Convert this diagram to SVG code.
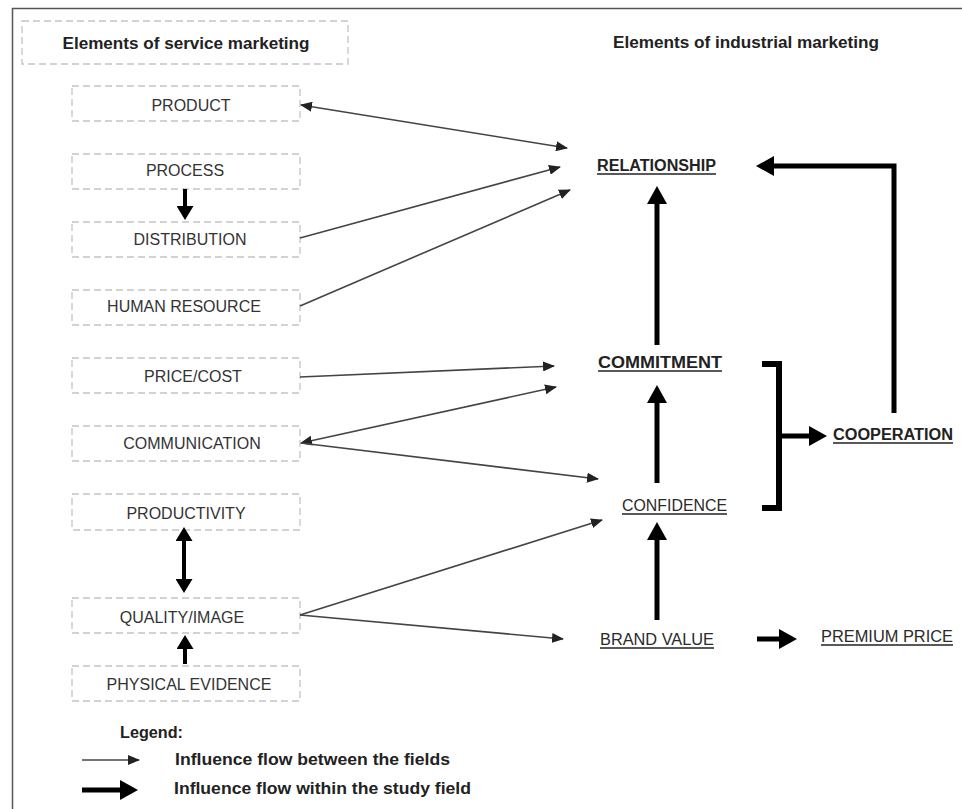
<svg xmlns="http://www.w3.org/2000/svg" width="962" height="809" viewBox="0 0 962 809">
<style>
.box{fill:#fff;stroke:#c4c4c4;stroke-width:1.3;stroke-dasharray:7 4}
.lt{font-family:"Liberation Sans",Arial,sans-serif;font-size:16px;fill:#333;text-anchor:middle}
.rt{font-family:"Liberation Sans",Arial,sans-serif;font-size:16px;fill:#2a2a2a}
.b{font-weight:bold;fill:#222}
.hd{font-family:"Liberation Sans",Arial,sans-serif;font-size:16.5px;font-weight:bold;fill:#222}
.ul{stroke:#222;stroke-width:1.5}
.thin{stroke:#444;stroke-width:1.6;fill:none}
.thick{stroke:#000;stroke-width:5;fill:none}
.thickS{stroke:#000;stroke-width:4;fill:none}
</style>
<defs>
<marker id="ah" markerUnits="userSpaceOnUse" markerWidth="12" markerHeight="10" refX="11" refY="5" orient="auto-start-reverse"><path d="M0,0 L12,5 L0,10 z" fill="#222"/></marker>
<marker id="ahT" markerUnits="userSpaceOnUse" markerWidth="18" markerHeight="20" refX="6" refY="10" orient="auto-start-reverse"><path d="M0,0 L18,10 L0,20 z" fill="#000"/></marker>
<marker id="ahS" markerUnits="userSpaceOnUse" markerWidth="14" markerHeight="17" refX="4" refY="8.5" orient="auto-start-reverse"><path d="M0,0 L14,8.5 L0,17 z" fill="#000"/></marker>
</defs>
<rect width="962" height="809" fill="#fff"/>
<path d="M12.5,809 V8.5 H962" fill="none" stroke="#555" stroke-width="1.5"/>

<g id="header-service">
<rect class="box" x="22" y="21" width="326" height="43"/>
<text class="hd" x="186" y="49" text-anchor="middle" textLength="247" lengthAdjust="spacingAndGlyphs">Elements of service marketing</text>
</g>
<g id="header-industrial">
<text class="hd" x="746" y="48" text-anchor="middle" textLength="266" lengthAdjust="spacingAndGlyphs">Elements of industrial marketing</text>
</g>

<g id="product"><rect class="box" x="72" y="86" width="228" height="35"/><text class="lt" x="191" y="111">PRODUCT</text></g>
<g id="process"><rect class="box" x="72" y="154" width="228" height="35"/><text class="lt" x="185" y="176">PROCESS</text></g>
<g id="distribution"><rect class="box" x="72" y="222" width="228" height="35"/><text class="lt" x="190" y="245">DISTRIBUTION</text></g>
<g id="human-resource"><rect class="box" x="72" y="290" width="228" height="35"/><text class="lt" x="184" y="312">HUMAN RESOURCE</text></g>
<g id="price-cost"><rect class="box" x="72" y="358" width="228" height="35"/><text class="lt" x="193" y="382">PRICE/COST</text></g>
<g id="communication"><rect class="box" x="72" y="426" width="228" height="35"/><text class="lt" x="192" y="449">COMMUNICATION</text></g>
<g id="productivity"><rect class="box" x="72" y="494" width="228" height="36"/><text class="lt" x="186" y="519">PRODUCTIVITY</text></g>
<g id="quality-image"><rect class="box" x="72" y="598" width="228" height="35"/><text class="lt" x="182" y="623">QUALITY/IMAGE</text></g>
<g id="physical-evidence"><rect class="box" x="72" y="666" width="228" height="35"/><text class="lt" x="189" y="690">PHYSICAL EVIDENCE</text></g>

<g id="relationship"><text class="rt b" x="597" y="171" textLength="119" lengthAdjust="spacingAndGlyphs">RELATIONSHIP</text><line class="ul" x1="597" y1="174" x2="716" y2="174"/></g>
<g id="commitment"><text class="rt b" x="598" y="368" textLength="124" lengthAdjust="spacingAndGlyphs">COMMITMENT</text><line class="ul" x1="598" y1="371" x2="722" y2="371"/></g>
<g id="confidence"><text class="rt" x="622" y="511" textLength="105" lengthAdjust="spacingAndGlyphs">CONFIDENCE</text><line class="ul" x1="622" y1="514" x2="727" y2="514"/></g>
<g id="brand-value"><text class="rt" x="600" y="645" textLength="114" lengthAdjust="spacingAndGlyphs">BRAND VALUE</text><line class="ul" x1="600" y1="648" x2="714" y2="648"/></g>
<g id="premium-price"><text class="rt" x="821" y="642" textLength="132" lengthAdjust="spacingAndGlyphs">PREMIUM PRICE</text><line class="ul" x1="821" y1="645" x2="953" y2="645"/></g>
<g id="cooperation"><text class="rt b" x="833" y="440" textLength="120" lengthAdjust="spacingAndGlyphs">COOPERATION</text><line class="ul" x1="833" y1="443" x2="953" y2="443"/></g>

<g id="connectors">
<line class="thin" x1="301" y1="105" x2="567" y2="148" marker-start="url(#ah)" marker-end="url(#ah)"/>
<line class="thin" x1="300" y1="238" x2="560" y2="167" marker-end="url(#ah)"/>
<line class="thin" x1="300" y1="306" x2="570" y2="190" marker-end="url(#ah)"/>
<line class="thin" x1="300" y1="377" x2="554" y2="366" marker-end="url(#ah)"/>
<line class="thin" x1="301" y1="443" x2="556" y2="387" marker-start="url(#ah)" marker-end="url(#ah)"/>
<line class="thin" x1="301" y1="443" x2="598" y2="479" marker-end="url(#ah)"/>
<line class="thin" x1="300" y1="615" x2="602" y2="520" marker-end="url(#ah)"/>
<line class="thin" x1="300" y1="615" x2="563" y2="639" marker-end="url(#ah)"/>

<line class="thickS" x1="185" y1="189" x2="185" y2="210" marker-end="url(#ahS)"/>
<line class="thickS" x1="184" y1="537" x2="184" y2="583" marker-start="url(#ahS)" marker-end="url(#ahS)"/>
<line class="thickS" x1="185" y1="664" x2="185" y2="645" marker-end="url(#ahS)"/>

<line class="thick" x1="657" y1="345" x2="657" y2="198" marker-end="url(#ahT)"/>
<line class="thick" x1="657" y1="483" x2="657" y2="397" marker-end="url(#ahT)"/>
<line class="thick" x1="657" y1="620" x2="657" y2="534" marker-end="url(#ahT)"/>
<path class="thick" d="M894,413 V166 H768" marker-end="url(#ahT)"/>
<path d="M762,364 H779 V508 H762" fill="none" stroke="#000" stroke-width="6"/>
<line class="thick" x1="779" y1="436" x2="815" y2="436" marker-end="url(#ahT)"/>
<line class="thick" x1="757" y1="639" x2="785" y2="639" marker-end="url(#ahT)"/>
</g>

<g id="legend">
<text class="hd" x="120" y="738" textLength="63" lengthAdjust="spacingAndGlyphs">Legend:</text>
<line class="thin" x1="82" y1="760" x2="139" y2="760" marker-end="url(#ah)"/>
<text class="hd" x="175" y="765" textLength="275" lengthAdjust="spacingAndGlyphs">Influence flow between the fields</text>
<line class="thick" x1="82" y1="790" x2="126" y2="790" marker-end="url(#ahT)"/>
<text class="hd" x="174" y="794" textLength="297" lengthAdjust="spacingAndGlyphs">Influence flow within the study field</text>
</g>
</svg>
